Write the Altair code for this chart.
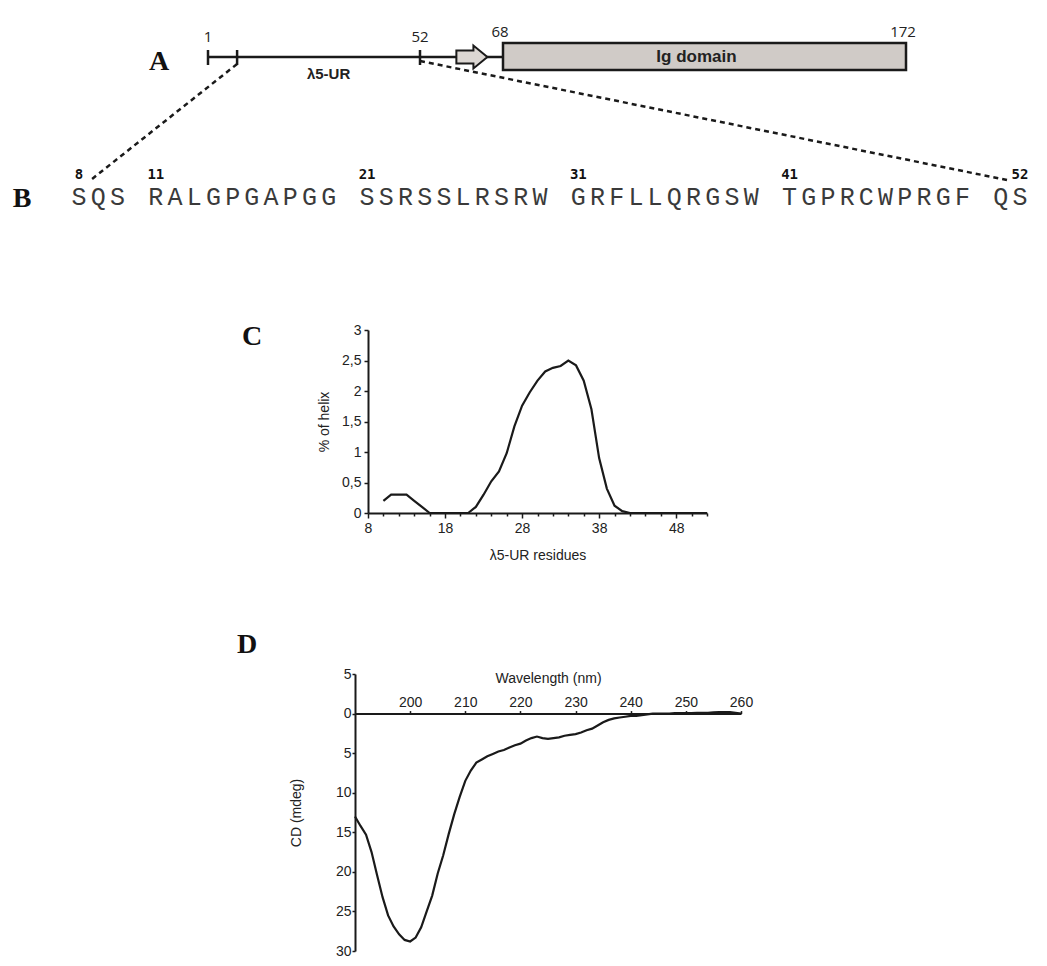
import altair as alt
import pandas as pd

W = 1031
H = 948

# ---------------- data ----------------
# Panel A schematic (residue numbers along the chain)
a_line = [1, 68]
a_ticks = [1, 8, 52]
a_labels_low = [1, 52]
a_labels_high = [68, 172]
box_span = [68, 172]
box_label = "Ig domain"
arrow_res = [62]
ur_label = "λ5-UR"
ur_label_res = [30]
link_res_left = [8]
link_res_right = [52]

# Panel B sequence
seq_groups = ["SQS", "RALGPGAPGG", "SSRSSLRSRW", "GRFLLQRGSW", "TGPRCWPRGF", "QS"]
seq_start = 8
seq_numbers = [8, 11, 21, 31, 41, 52]

# Panel C: % of helix per residue
c_res = list(range(10, 53))
c_helix = [0.2, 0.3, 0.3, 0.3, 0.2, 0.1, 0.0, 0.0, 0.0, 0.0, 0.0, 0.0,
           0.1, 0.3, 0.52, 0.68, 0.98, 1.42, 1.76, 1.98, 2.17, 2.32, 2.38,
           2.41, 2.5, 2.42, 2.17, 1.7, 0.9, 0.4, 0.12, 0.03,
           0.0, 0.0, 0.0, 0.0, 0.0, 0.0, 0.0, 0.0, 0.0, 0.0, 0.0]
c_major = [8, 18, 28, 38, 48]
c_minor = [10, 12, 14, 16, 20, 22, 24, 26, 30, 32, 34, 36, 40, 42, 44, 46, 50, 52]
c_yticks = [0, 0.5, 1, 1.5, 2, 2.5, 3]

# Panel D: CD spectrum
d_wl = list(range(190, 261))
d_cd = [-13.0, -14.2, -15.3, -17.5, -20.4, -23.2, -25.5, -26.9, -27.9, -28.6,
        -28.8, -28.3, -27.0, -25.0, -23.0, -20.2, -17.9, -15.2, -12.7, -10.5,
        -8.5, -7.2, -6.2, -5.8, -5.4, -5.1, -4.8, -4.6, -4.3, -4.0,
        -3.8, -3.4, -3.1, -2.9, -3.1, -3.2, -3.1, -3.0, -2.8, -2.7,
        -2.6, -2.4, -2.1, -1.9, -1.5, -1.1, -0.8, -0.6, -0.5, -0.4,
        -0.3, -0.3, -0.2, -0.1, 0.0, 0.0, 0.0, 0.0, 0.05, 0.05,
        0.05, 0.05, 0.1, 0.1, 0.1, 0.15, 0.2, 0.2, 0.2, 0.1, 0.0]
d_xticks = [200, 210, 220, 230, 240, 250, 260]
d_yticks = [-30, -25, -20, -15, -10, -5, 0, 5]

# ---------------- derived tables ----------------
chars, res_slot = [], {}
slot, res = 0, seq_start
for g in seq_groups:
    for ch in g:
        chars.append({"k": slot, "ch": ch})
        res_slot[res] = slot
        slot += 1
        res += 1
    slot += 1
df_chars = pd.DataFrame(chars)
df_nums = pd.DataFrame({"k": [res_slot[r] for r in seq_numbers],
                        "t": [str(r) for r in seq_numbers]})
df_c = pd.DataFrame({"res": c_res, "helix": c_helix})
df_d = pd.DataFrame({"wl": d_wl, "cd": d_cd})

INK = "#1a1a1a"
SANS = "Liberation Sans"

ax_scale = alt.Scale(domain=[1, 52, 68, 172], range=[200, 412, 495, 898], nice=False, zero=False)
bx_scale = alt.Scale(domain=[0, 49], range=[71, 1012], nice=False, zero=False)
cx_scale = alt.Scale(domain=[8, 52], range=[360, 699], nice=False, zero=False)
cy_scale = alt.Scale(domain=[0, 3], range=[505, 322], nice=False, zero=False)
dx_scale = alt.Scale(domain=[190, 260], range=[347, 733], nice=False, zero=False)
dy_scale = alt.Scale(domain=[-30, 5], range=[943, 666], nice=False, zero=False)
d_zero_y = 943 - 30 * (943 - 666) / 35.0

def ax(field):
    return alt.X(f"{field}:Q", scale=ax_scale, axis=None)

# ---------------- panel A ----------------
main_line = alt.Chart(pd.DataFrame({"s": [a_line[0]], "e": [a_line[1]]})).mark_rule(
    color=INK, strokeWidth=2.5).encode(x=ax("s"), x2="e:Q", y=alt.value(49))

ticks = alt.Chart(pd.DataFrame({"r": a_ticks})).mark_rule(color=INK, strokeWidth=2.5).encode(
    x=ax("r"), y=alt.value(42), y2=alt.value(57))

lab_low = alt.Chart(pd.DataFrame({"r": a_labels_low, "t": [str(v) for v in a_labels_low]})).mark_text(
    font="Open Sans", fontSize=15, color="#222", baseline="alphabetic").encode(
    x=ax("r"), y=alt.value(34), text="t:N")

lab_high = alt.Chart(pd.DataFrame({"r": a_labels_high, "t": [str(v) for v in a_labels_high]})).mark_text(
    font="Open Sans", fontSize=15, color="#222", baseline="alphabetic", dx=-3).encode(
    x=ax("r"), y=alt.value(29), text="t:N")

box = alt.Chart(pd.DataFrame({"s": [box_span[0]], "e": [box_span[1]]})).mark_rect(
    fill="#d0cbc7", stroke=INK, strokeWidth=2.5).encode(
    x=ax("s"), x2="e:Q", y=alt.value(35), y2=alt.value(62))

box_text = alt.Chart(pd.DataFrame({"r": [(box_span[0] + box_span[1]) / 2], "t": [box_label]})).mark_text(
    font=SANS, fontWeight="bold", fontSize=17, color="#222", baseline="middle", dx=-8).encode(
    x=ax("r"), y=alt.value(49), text="t:N")

arrow_path = "M -1 -0.42 L 0.1 -0.42 L 0.1 -0.74 L 1 0 L 0.1 0.74 L 0.1 0.42 L -1 0.42 Z"
arrow = alt.Chart(pd.DataFrame({"r": arrow_res})).mark_point(
    shape=arrow_path, size=961, filled=True, fill="#dcd7d3", stroke=INK, strokeWidth=2,
    opacity=1).encode(x=ax("r"), y=alt.value(49))

ur_text = alt.Chart(pd.DataFrame({"r": ur_label_res, "t": [ur_label]})).mark_text(
    font=SANS, fontWeight="bold", fontSize=15, color="#222", baseline="alphabetic").encode(
    x=ax("r"), y=alt.value(71), text="t:N")

link_left = alt.Chart(pd.DataFrame({"r": link_res_left})).mark_rule(
    color=INK, strokeWidth=2.5, strokeDash=[5, 4]).encode(
    x=ax("r"), y=alt.value(56), x2=alt.value(84), y2=alt.value(171))

link_right = alt.Chart(pd.DataFrame({"r": link_res_right})).mark_rule(
    color=INK, strokeWidth=2.5, strokeDash=[5, 4]).encode(
    x=ax("r"), y=alt.value(53), x2=alt.value(999), y2=alt.value(172))

# ---------------- panel B ----------------
seq_text = alt.Chart(df_chars).mark_text(
    font="Liberation Mono", fontSize=25, color="#3a3a3a", baseline="alphabetic").encode(
    x=alt.X("k:Q", scale=bx_scale, axis=None), y=alt.value(197), text="ch:N")

seq_nums = alt.Chart(df_nums).mark_text(
    font="DejaVu Sans Mono", fontWeight="bold", fontSize=14, color="#111", baseline="alphabetic").encode(
    x=alt.X("k:Q", scale=bx_scale, axis=None), y=alt.value(171), text="t:N")

# ---------------- panel letters ----------------
def letter(t, x, y):
    return alt.Chart(pd.DataFrame({"t": [t]})).mark_text(
        font="Liberation Serif", fontWeight="bold", fontSize=28, color="#111",
        baseline="alphabetic").encode(x=alt.value(x), y=alt.value(y), text="t:N")

letters = [letter("A", 151, 62), letter("B", 14, 199), letter("C", 244, 337), letter("D", 239, 645)]

# ---------------- panel C ----------------
c_line = alt.Chart(df_c).mark_line(color=INK, strokeWidth=2.2).encode(
    x=alt.X("res:Q", scale=cx_scale, axis=alt.Axis(
        orient="bottom", offset=505 - H, values=c_major, tickSize=5, tickWidth=1.5,
        domainWidth=2, domainColor=INK, tickColor=INK, labelFont=SANS, labelFontSize=14,
        labelColor="#222", labelPadding=3, labelFlush=False, labelOverlap=False,
        title="λ5-UR residues", titleFont=SANS, titleFontSize=14,
        titleFontWeight="normal", titleColor="#222", titlePadding=13, grid=False)),
    y=alt.Y("helix:Q", scale=cy_scale, axis=alt.Axis(
        orient="left", offset=-360, values=c_yticks, tickSize=4, tickWidth=1.5,
        domainWidth=2, domainColor=INK, tickColor=INK, labelFont=SANS, labelFontSize=14,
        labelColor="#222", labelPadding=3, labelFlush=False, labelOverlap=False,
        labelExpr="replace(format(datum.value, '~g'), '.', ',')",
        title="% of helix", titleFont=SANS, titleFontSize=14, titleFontWeight="normal",
        titleColor="#222", titlePadding=10, grid=False)))

c_minor_axis = alt.Chart(df_c).mark_line(opacity=0).encode(
    x=alt.X("res:Q", scale=cx_scale, axis=alt.Axis(
        orient="bottom", offset=505 - H, values=c_minor, tickSize=3, tickWidth=1.5,
        tickColor=INK, domain=False, labels=False, title=None, grid=False)),
    y=alt.Y("helix:Q", scale=cy_scale, axis=None))

# ---------------- panel D ----------------
d_line = alt.Chart(df_d).mark_line(color=INK, strokeWidth=2.2).encode(
    x=alt.X("wl:Q", scale=dx_scale, axis=alt.Axis(
        orient="top", offset=-d_zero_y, values=d_xticks, tickSize=3, tickWidth=1.5,
        domainWidth=2, domainColor=INK, tickColor=INK, labelFont=SANS, labelFontSize=14,
        labelColor="#222", labelPadding=1, labelFlush=False, labelOverlap=False,
        title="Wavelength (nm)", titleFont=SANS, titleFontSize=14,
        titleFontWeight="normal", titleColor="#222", titlePadding=10, grid=False)),
    y=alt.Y("cd:Q", scale=dy_scale, axis=alt.Axis(
        orient="left", offset=-347, values=d_yticks, tickSize=3, tickWidth=1.5,
        domainWidth=2, domainColor=INK, tickColor=INK, labelFont=SANS, labelFontSize=14,
        labelColor="#222", labelPadding=1, labelFlush=False, labelOverlap=False,
        labelExpr="format(abs(datum.value), '~g')",
        title="CD (mdeg)", titleFont=SANS, titleFontSize=14, titleFontWeight="normal",
        titleColor="#222", titlePadding=32, grid=False)))

layers = [main_line, ticks, lab_low, lab_high, box, box_text, arrow, ur_text,
          link_left, link_right, seq_text, seq_nums] + letters + [c_line, c_minor_axis, d_line]

chart = alt.layer(*layers).resolve_scale(x="independent", y="independent").properties(
    width=W, height=H, padding=0, background="white"
).configure_view(stroke=None)

chart.save("out.html", embed_options={"renderer": "svg", "actions": False})
